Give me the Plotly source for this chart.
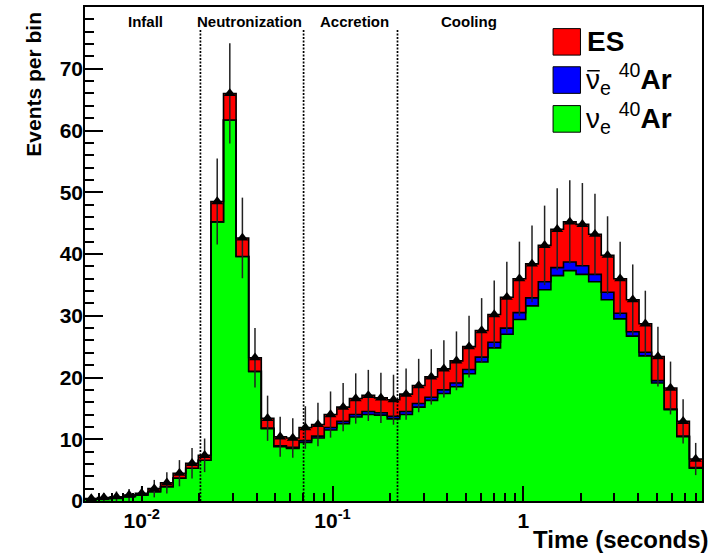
import numpy as np
import plotly.graph_objects as go

# ---------------- data ----------------
t_min = 0.00504          # seconds, left edge of first bin
t_max = 8.64             # seconds, right edge of last bin
n_bins = 49

nue_ar = [0.3, 0.4, 0.5, 0.75, 1.0, 1.5, 2.3, 3.7, 5.3, 6.6,
          45.2, 61.7, 39.6, 21.0, 11.7, 8.8, 8.5, 9.5, 10.2, 11.5,
          12.5, 13.6, 14.0, 13.9, 13.3, 14.0, 15.2, 16.3, 17.4, 18.5,
          20.6, 22.5, 24.8, 27.0, 29.4, 31.6, 34.2, 36.5, 37.3, 36.7,
          35.5, 32.6, 29.5, 26.7, 23.5, 19.1, 14.8, 10.4, 5.3]
nuebar_ar = [0, 0, 0, 0, 0, 0, 0, 0, 0, 0,
             0, 0, 0, 0, 0.1, 0.15, 0.2, 0.3, 0.3, 0.4,
             0.4, 0.4, 0.5, 0.4, 0.4, 0.5, 0.6, 0.5, 0.6, 0.6,
             0.7, 0.8, 0.9, 1.0, 1.1, 1.3, 1.3, 1.3, 1.4, 1.4,
             1.2, 1.2, 0.9, 0.7, 0.6, 0.4, 0.1, 0.1, 0.1]
es = [0.1, 0.15, 0.2, 0.22, 0.25, 0.5, 0.65, 0.8, 0.8, 0.8,
      3.3, 4.3, 3.0, 2.2, 1.6, 1.45, 1.5, 2.1, 1.9, 2.1,
      2.3, 2.6, 2.6, 2.4, 2.7, 2.8, 2.9, 3.3, 3.4, 3.6,
      3.7, 4.3, 4.5, 5.0, 5.5, 5.5, 5.9, 6.2, 6.5, 6.7,
      6.5, 6.0, 5.6, 5.2, 4.6, 3.9, 3.4, 2.4, 1.4]

phase_names = ["Infall", "Neutronization", "Accretion", "Cooling"]
phase_bounds = [0.0203, 0.0705, 0.219]   # seconds
phase_line_top = 76.3

x_tickvals = [0.01, 0.1, 1]
x_ticktext = ["10<sup>-2</sup>", "10<sup>-1</sup>", "1"]
x_minor = [0.006, 0.007, 0.008, 0.009,
           0.02, 0.03, 0.04, 0.05, 0.06, 0.07, 0.08, 0.09,
           0.2, 0.3, 0.4, 0.5, 0.6, 0.7, 0.8, 0.9,
           2, 3, 4, 5, 6, 7, 8]
y_tickvals = [0, 10, 20, 30, 40, 50, 60, 70]

# ---------------- derived ----------------
edges = np.logspace(np.log10(t_min), np.log10(t_max), n_bins + 1)
centers = np.sqrt(edges[:-1] * edges[1:])
g = np.array(nue_ar)
gb = g + np.array(nuebar_ar)
tot = gb + np.array(es)
err = np.sqrt(tot)

def step_y(v):
    return list(v) + [v[-1]]

FONT = "Liberation Sans, Arial, Helvetica, sans-serif"
fig = go.Figure()

line = dict(color="black", width=1.6, shape="hv")
fig.add_trace(go.Scatter(x=edges, y=step_y(g), mode="lines", line=line,
                         fill="tozeroy", fillcolor="#00ff00", showlegend=False,
                         hoverinfo="skip"))
fig.add_trace(go.Scatter(x=edges, y=step_y(gb), mode="lines", line=line,
                         fill="tonexty", fillcolor="#0000ff", showlegend=False,
                         hoverinfo="skip"))
fig.add_trace(go.Scatter(x=edges, y=step_y(tot), mode="lines", line=line,
                         fill="tonexty", fillcolor="#ff0000", showlegend=False,
                         hoverinfo="skip"))

for b in phase_bounds:
    fig.add_trace(go.Scatter(x=[b, b], y=[0, phase_line_top], mode="lines",
                             line=dict(color="black", width=1.7, dash="2px,1.5px"),
                             showlegend=False, hoverinfo="skip"))

fig.add_trace(go.Scatter(x=centers, y=tot, mode="markers",
                         marker=dict(symbol="triangle-up", size=10.5, color="black"),
                         error_y=dict(type="data", array=err, visible=True,
                                      color="#222222", thickness=1.5, width=0),
                         showlegend=False))

# plot area in pixels: x 85..702.3, y 5..501
L, R, T, B = 85, 702.3, 5, 501
def px(xp):
    return (xp - L) / (R - L)
def py(yp):
    return (B - yp) / (B - T)

ann = []
phase_px = [146, 250, 355, 469]
for name, xp in zip(phase_names, phase_px):
    ann.append(dict(x=px(xp), y=py(20), xref="paper", yref="paper", text=name,
                    showarrow=False, xanchor="center", yanchor="middle",
                    font=dict(family=FONT, size=15, color="black", weight="bold")))

# legend
leg_colors = ["#ff0000", "#0000ff", "#00ff00"]
leg_rows = [(26.7, 53.3), (65, 91.7), (104, 130.7)]
leg_text = ["ES", "\u03bd<sub>e</sub> <sup>40</sup><b>Ar</b>",
            "\u03bd<sub>e</sub> <sup>40</sup><b>Ar</b>"]
shapes = []
for i, (c, (y0, y1), t) in enumerate(zip(leg_colors, leg_rows, leg_text)):
    shapes.append(dict(type="rect", xref="paper", yref="paper",
                       x0=px(553.3), x1=px(580.7), y0=py(y1), y1=py(y0),
                       fillcolor=c, line=dict(color="black", width=1)))
    if t == "ES":
        ann.append(dict(x=px(585), y=py((y0 + y1) / 2), xref="paper", yref="paper",
                        text="ES", showarrow=False, xanchor="left", yanchor="middle",
                        font=dict(family=FONT, size=28, color="black", weight="bold")))
    else:
        ann.append(dict(x=px(584), y=py((y0 + y1) / 2 - 1), xref="paper", yref="paper",
                        text=t, showarrow=False, xanchor="left", yanchor="middle",
                        font=dict(family=FONT, size=28, color="black")))
    if i == 1:
        # bar over the antineutrino symbol
        shapes.append(dict(type="line", xref="paper", yref="paper",
                           x0=px(587.5), x1=px(600), y0=py(69), y1=py(69),
                           line=dict(color="black", width=1.5)))

ann.append(dict(x=px(33.5), y=py(82.5), xref="paper", yref="paper",
                text="Events per bin", textangle=-90, showarrow=False,
                xanchor="center", yanchor="middle",
                font=dict(family=FONT, size=21, color="black", weight="bold")))
ann.append(dict(x=px(711), y=py(540), xref="paper", yref="paper",
                text="Time (seconds)", showarrow=False,
                xanchor="right", yanchor="middle",
                font=dict(family=FONT, size=24, color="black", weight="bold")))

fig.update_layout(
    width=713, height=553,
    margin=dict(l=L, r=713 - R, t=T, b=553 - B),
    plot_bgcolor="white", paper_bgcolor="white",
    annotations=ann, shapes=shapes, showlegend=False,
    xaxis=dict(type="log", range=[np.log10(t_min), np.log10(t_max)],
               showline=True, linecolor="black", linewidth=1.5, mirror=True,
               showgrid=False, zeroline=False,
               tickmode="array", tickvals=x_tickvals, ticktext=x_ticktext,
               ticks="inside", ticklen=15, tickwidth=1.5, tickcolor="black",
               tickfont=dict(family=FONT, size=21, color="black", weight="bold"),
               minor=dict(tickmode="array", tickvals=x_minor, ticks="inside",
                          ticklen=8, tickwidth=1.5, tickcolor="black", showgrid=False)),
    yaxis=dict(range=[0, 80], showline=True, linecolor="black", linewidth=1.5,
               mirror=True, showgrid=False, zeroline=False,
               tickmode="array", tickvals=y_tickvals,
               ticks="inside", ticklen=18, tickwidth=1.5, tickcolor="black",
               ticklabelstandoff=-4,
               tickfont=dict(family=FONT, size=21, color="black", weight="bold"),
               minor=dict(dtick=2, ticks="inside", ticklen=9, tickwidth=1.5,
                          tickcolor="black", showgrid=False)),
)

fig.write_html("out.html", config={"displayModeBar": False},
               post_script="document.body.style.margin='0';document.body.style.overflow='hidden';")
